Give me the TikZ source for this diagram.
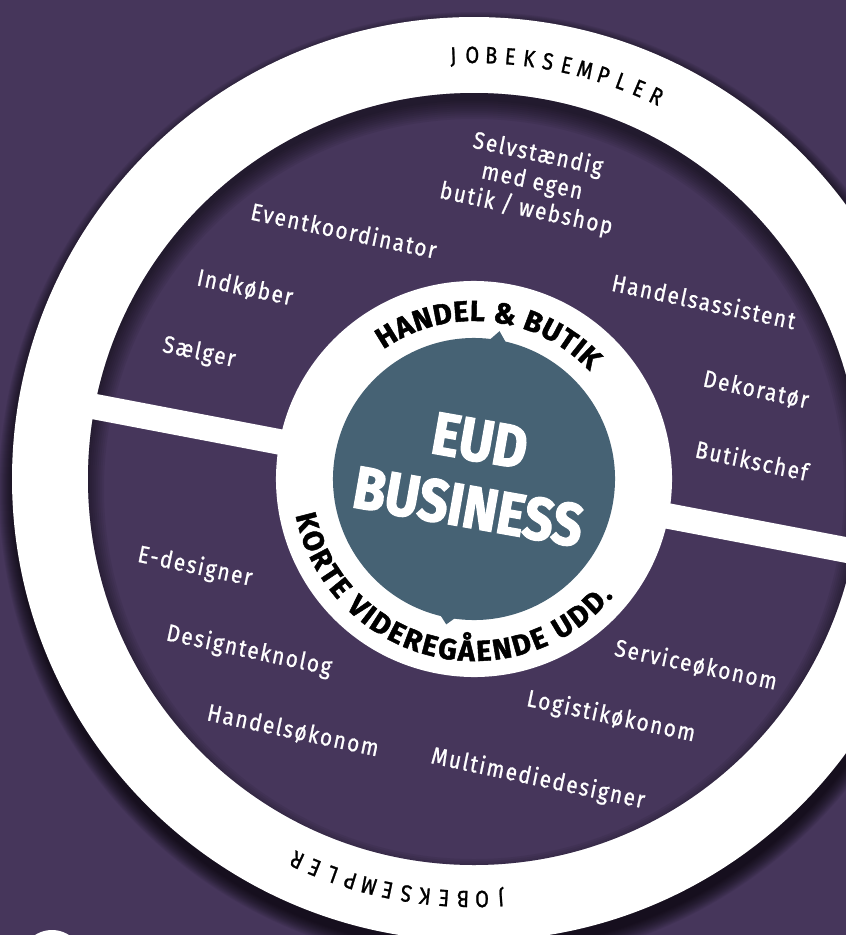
\documentclass[tikz,border=0pt]{standalone}
\usepackage{fontspec}
\setmainfont{Fira Sans}
\newfontfamily\jobfont{Fira Sans}[LetterSpace=7.5, FakeStretch=0.86, FakeBold=0.9]
\newfontfamily\ringfont{Fira Sans}[FakeStretch=0.85, FakeBold=1]
\newfontfamily\hfont{Fira Sans}[FakeBold=1.5]
\newfontfamily\eudfont{Fira Sans}[FakeStretch=0.87, FakeBold=2.2]
\usetikzlibrary{decorations.text,calc}
\definecolor{bgpurple}{RGB}{70,54,91}
\definecolor{eudteal}{RGB}{70,98,116}
\tikzset{
  jobtitle/.style={text=white, font=\jobfont\fontsize{24}{28}\selectfont, rotate=-12, align=center, inner sep=0pt},
  jobletter/.style={text=black, font=\ringfont\fontsize{23.5}{23.5}\selectfont, inner sep=0pt, text height=16pt, text depth=0pt, anchor=center},
  eudlabel/.style={text=white, font=\eudfont\bfseries\fontsize{60}{67}\selectfont, align=center, rotate=-10, inner sep=0pt}
}
\begin{document}
\begin{tikzpicture}[x=1pt,y=1pt]
\useasboundingbox (0,0) rectangle (846,-935);
\clip (0,0) rectangle (846,-935);
\fill[bgpurple] (0,0) rectangle (846,-935);
\coordinate (C) at (474,-479);
% small white circle bottom-left
\fill[white] (52,-961) circle (31);
\begin{scope}[shift={(474,-479)}]
  % drop shadow of outer ring
  \foreach \k in {0,...,15} \fill[black,opacity=0.06] (2,-10) circle ({477-\k});
  \fill[white] (0,0) circle (462);
  \fill[bgpurple] (0,0) circle (386);
  % inner shadow
  \begin{scope}
    \clip (0,0) circle (386);
    \foreach \k in {0,...,9} \fill[black,opacity=0.06,even odd rule] (0,0) circle (400) (0,-10) circle ({388-2*\k});
  \end{scope}
\end{scope}
\begin{scope}[shift={(474,-479)}, rotate=-10.8]
  \fill[white] (-420,-12.75) rectangle (420,12.75);
  \fill[white] (0,0) circle (198);
  \fill[eudteal] (0,0) circle (141);
  \fill[eudteal] (86:136) -- (91:150) -- (96:136) -- cycle;
  \fill[eudteal] (265:136) -- (270:148) -- (275:136) -- cycle;
\end{scope}
\begin{scope}[shift={(474,-479)}]
  \path[decorate, decoration={text along path, text align=fit to path, text color=black,
    text={|\hfont\bfseries\fontsize{29}{29}\selectfont|HANDEL {\&} BUTIK}}] (125:158) arc (125:43:158);
  \path[decorate, decoration={text along path, text align=fit to path, text color=black,
    text={|\hfont\bfseries\fontsize{29}{29}\selectfont|KORTE VIDEREGÅENDE UDD.}}] (191.5:182) arc (191.5:320:182);
  \foreach \ch [count=\i from 0] in {J,O,B,E,K,S,E,M,P,L,E,R} {
    \pgfmathsetmacro\a{92.8-2.57*\i}
    \node[jobletter, rotate=\a-90] (jt\i) at (\a:424) {\ch};
    \pgfmathsetmacro\b{273.7-2.6*\i}
    \node[jobletter, rotate=\b-90] (jb\i) at (\b:420) {\ch};
  }
\end{scope}
\node[eudlabel] (eud) at (474,-474) {EUD\\BUSINESS};
% job titles
\node[jobtitle] (selv) at (532,-182) {Selvstændig\\med egen\\butik / webshop};
\node[jobtitle] (event) at (344,-230) {Eventkoordinator};
\node[jobtitle] (indk) at (245,-288) {Indkøber};
\node[jobtitle] (saelg) at (199,-353) {Sælger};
\node[jobtitle] (hass) at (704,-301) {Handelsassistent};
\node[jobtitle] (dek) at (756,-390) {Dekoratør};
\node[jobtitle] (butc) at (752,-460) {Butikschef};
\node[jobtitle] (edes) at (195,-567) {E-designer};
\node[jobtitle] (dtek) at (249,-651) {Designteknolog};
\node[jobtitle] (hok) at (293,-731) {Handelsøkonom};
\node[jobtitle] (sok) at (696,-665) {Serviceøkonom};
\node[jobtitle] (lok) at (611,-717) {Logistikøkonom};
\node[jobtitle] (mmd) at (538,-779) {Multimediedesigner};
\end{tikzpicture}
\end{document}
